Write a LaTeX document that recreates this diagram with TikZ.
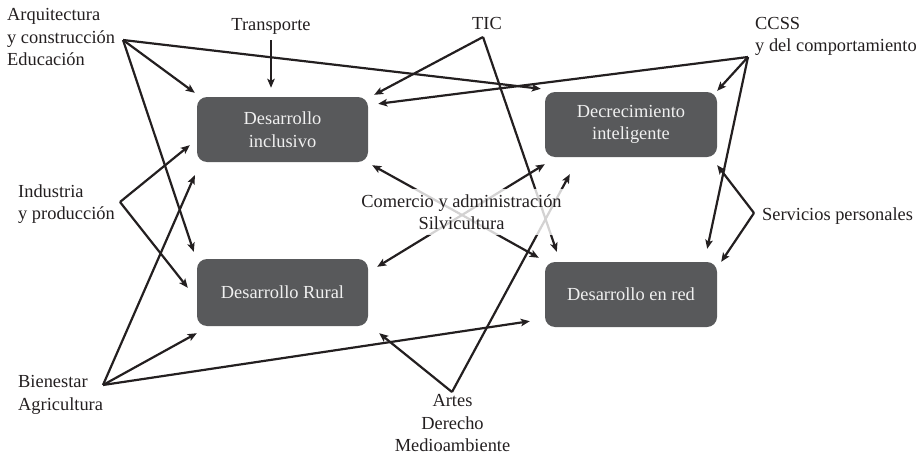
\documentclass[tikz,border=0pt]{standalone}
\usepackage{fontspec}
\setmainfont{Liberation Serif}
\usetikzlibrary{arrows.meta,calc}
\definecolor{boxgray}{HTML}{58595B}
\definecolor{ink}{HTML}{231F20}
\begin{document}
\begin{tikzpicture}[x=1pt,y=-1pt,
  every node/.style={font=\fontsize{18.4}{22.5}\selectfont, text=ink, inner sep=0pt},
  areabox/.style={fill=boxgray, rounded corners=10pt, text=white!94!black, align=center,
    minimum width=171pt, minimum height=65pt, inner sep=0pt},
  link/.style={draw=ink, line width=2.2pt, -{Stealth[length=9pt,width=7.5pt,inset=2pt]}},
  label/.style={align=left, anchor=base west},
  clabel/.style={align=center, anchor=base},
]
\useasboundingbox (0,0) rectangle (922,455);
% area boxes
\node[areabox] (inc) at (282.5,129.5) {Desarrollo\\inclusivo};
\node[areabox, minimum width=172pt] (dec) at (631,124.5) {Decrecimiento\\inteligente};
\node[areabox, minimum height=67pt] (rur) at (282.5,292.5) {Desarrollo Rural};
\node[areabox, minimum width=172pt] (red) at (631,294.5) {Desarrollo en red};
% field labels (base = baseline of the last line)
\node[label] (arq) at (7,65.7) {Arquitectura\\y construcción\\Educación};
\node[clabel] (tra) at (271,30.5) {Transporte};
\node[clabel] (tic) at (487,29) {TIC};
\node[label] (ccs) at (755,51.5) {CCSS\\y del comportamiento};
\node[label] (ind) at (18,219.5) {Industria\\y producción};
\node[label] (bie) at (18,410) {Bienestar\\Agricultura};
\node[label] (ser) at (762,220) {Servicios personales};
\node[clabel] (art) at (452.5,451.5) {Artes\\Derecho\\Medioambiente};
% connector origins
\coordinate (pA) at (123,40);
\coordinate (pT) at (271,40);
\coordinate (pI) at (483,37);
\coordinate (pS) at (748,57);
\coordinate (pP) at (120,202);
\coordinate (pB) at (103,385);
\coordinate (pR) at (452,392);
\coordinate (pV) at (754,213);
\coordinate (pC) at (462,215);
% connectors
\draw[link] (pA) -- ($(inc.north west)+(-2,-4)$);
\draw[link] (pA) -- ($(rur.north west)+(-3,-7)$);
\draw[link] (pA) -- ($(dec.north west)+(-4,-3)$);
\draw[link] (pT) -- ($(pT |- inc.north)+(0,-9)$);
\draw[link] (pI) -- ($(inc.north east)+(6,-2)$);
\draw[link] (pI) -- ($(red.north west)+(12,-10)$);
\draw[link] (pS) -- ($(inc.north east)+(10,7)$);
\draw[link] (pS) -- ($(dec.north east)+(0,-1)$);
\draw[link] (pS) -- ($(red.north east)+(-10,-13)$);
\draw[link] (pP) -- ($(inc.south west)+(-7,-17)$);
\draw[link] (pP) -- ($(rur.north west)+(-9,29)$);
\draw[link] (pB) -- ($(inc.south west)+(-2,13)$);
\draw[link] (pB) -- ($(rur.south west)+(0,7)$);
\draw[link] (pB) -- ($(red.south west)+(-15,-6)$);
\draw[link] (pR) -- ($(rur.south east)+(11,7)$);
\draw[link] (pR) -- ($(dec.south west)+(25,17)$);
\draw[link] (pV) -- ($(dec.south east)+(0,8)$);
\draw[link] (pV) -- ($(red.north east)+(4,0)$);
\draw[link] (pC) -- ($(inc.south east)+(4,3)$);
\draw[link] (pC) -- ($(dec.south west)+(0,7)$);
\draw[link] (pC) -- ($(rur.north east)+(9,8)$);
\draw[link] (pC) -- ($(red.north west)+(-6,-4)$);
% central label with translucent backing
\node[clabel, fill=white, fill opacity=0.8, text opacity=1, inner xsep=2pt, inner ysep=5pt] (com) at (461.5,229.5) {Comercio y administración\\Silvicultura};
\end{tikzpicture}
\end{document}
